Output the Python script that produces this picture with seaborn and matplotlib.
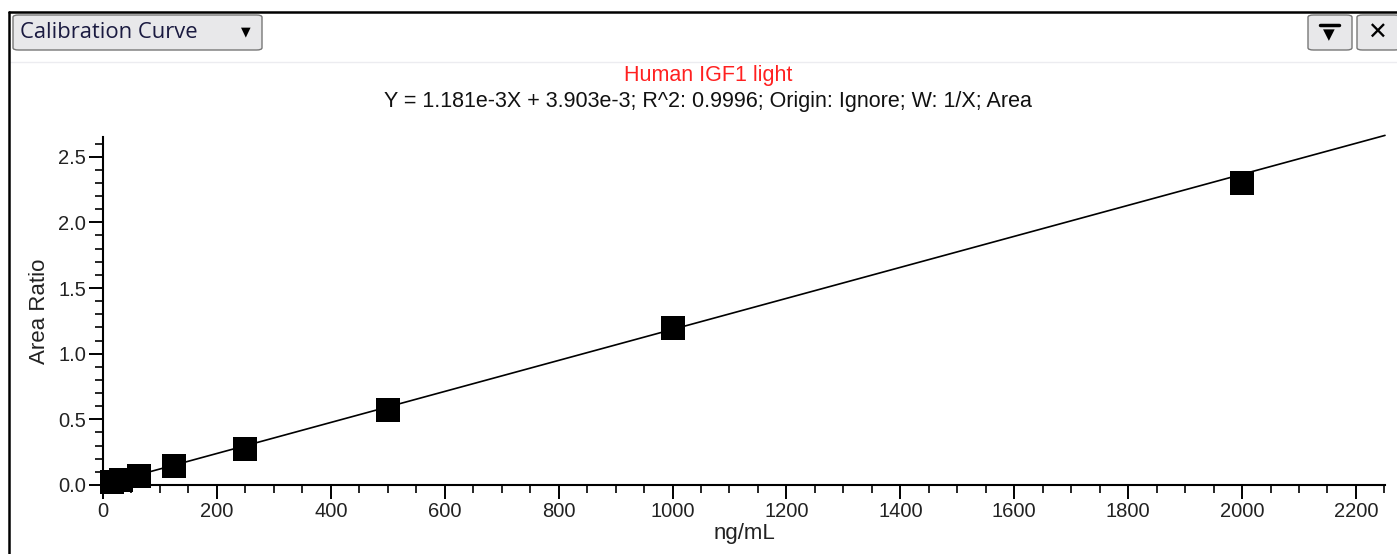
import numpy as np
import pandas as pd
import matplotlib
matplotlib.use("Agg")
import matplotlib.pyplot as plt
from matplotlib.patches import FancyBboxPatch
from matplotlib.ticker import MultipleLocator
import seaborn as sns

# calibration standards
conc = [15.6, 31.25, 62.5, 125, 250, 500, 1000, 2000]
area_ratio = [0.02, 0.04, 0.07, 0.145, 0.274, 0.572, 1.197, 2.30]

# fit reported in the chart header
slope = 1.181e-3
intercept = 3.903e-3
fit_x = [0, 2251]

title_main = "Human IGF1 light"
title_eq = "Y = 1.181e-3X + 3.903e-3; R^2: 0.9996; Origin: Ignore; W: 1/X; Area"

sns.set_style("ticks")
plt.rcParams["font.family"] = ["Liberation Sans", "DejaVu Sans"]

pts = pd.DataFrame({"conc": conc, "ratio": area_ratio})
fit = pd.DataFrame({"x": fit_x, "y": [slope * v + intercept for v in fit_x]})

fig = plt.figure(figsize=(13.97, 5.54), dpi=100)
ax = fig.add_axes([103 / 1397, 69 / 554, 1282 / 1397, 348 / 554])
ax.set_facecolor("white")

sns.lineplot(data=fit, x="x", y="y", color="black", lw=1.2, ax=ax, clip_on=False)
sns.scatterplot(data=pts, x="conc", y="ratio", marker="s", s=290, color="black",
                edgecolor="black", linewidth=0, ax=ax, clip_on=False, zorder=5)

ax.set_xlim(0, 2251)
ax.set_ylim(0, 2.65)
ax.xaxis.set_major_locator(MultipleLocator(200))
ax.xaxis.set_minor_locator(MultipleLocator(50))
ax.yaxis.set_major_locator(MultipleLocator(0.5))
ax.yaxis.set_minor_locator(MultipleLocator(0.1))
ax.yaxis.set_major_formatter(matplotlib.ticker.FormatStrFormatter("%.1f"))
ax.tick_params(which="major", length=10, width=1.4, labelsize=14.5, colors="black",
               labelcolor="#222222", pad=2)
ax.tick_params(which="minor", length=6, width=1.4)
sns.despine(ax=ax)
for s in ("left", "bottom"):
    ax.spines[s].set_linewidth(1.5)
    ax.spines[s].set_color("black")

ax.set_xlabel("ng/mL", fontsize=16, color="#222222", labelpad=2)
ax.set_ylabel("Area Ratio", fontsize=16, color="#222222", labelpad=6)

fig.text(708 / 1397, 1 - 76 / 554, title_main, color="#ff2020", fontsize=15.5,
         ha="center", va="center")
fig.text(708 / 1397, 1 - 101 / 554, title_eq, color="#111111", fontsize=15.5,
         ha="center", va="center")

# window chrome
fig.add_artist(plt.Line2D([9 / 1397, 1], [1 - 62 / 554] * 2, color="#ececf0", lw=1.0,
                          transform=fig.transFigure))
fig.add_artist(plt.Line2D([9 / 1397, 1], [1 - 12 / 554] * 2, color="black", lw=1.8,
                          transform=fig.transFigure))
fig.add_artist(plt.Line2D([9 / 1397] * 2, [0, 1 - 12 / 554], color="black", lw=1.8,
                          transform=fig.transFigure))


def button(x0, y0, x1, y1):
    fig.add_artist(FancyBboxPatch((x0 / 1397, 1 - y1 / 554), (x1 - x0) / 1397,
                                  (y1 - y0) / 554, boxstyle="round,pad=0,rounding_size=0.004",
                                  transform=fig.transFigure, facecolor="#e8e8ea",
                                  edgecolor="#777777", lw=1.0))


button(13, 15, 262, 50)
button(1308, 15, 1352, 50)
button(1357, 15, 1400, 50)
fig.text(20 / 1397, 1 - 32 / 554, "Calibration Curve", fontsize=15.8, color="#1a1a40",
         ha="left", va="center", family=["Open Sans", "DejaVu Sans"])
fig.text(246 / 1397, 1 - 32 / 554, "\u25bc", fontsize=9, color="black", ha="center", va="center",
         family="DejaVu Sans")
fig.text(1329 / 1397, 1 - 35 / 554, "\u25bc", fontsize=11, color="black", ha="center", va="center",
         family="DejaVu Sans")
fig.add_artist(plt.Line2D([1320 / 1397, 1339 / 1397], [1 - 25 / 554] * 2, color="black", lw=2.5,
                          transform=fig.transFigure))
fig.text(1377 / 1397, 1 - 33 / 554, "\u2715", fontsize=17, color="black", ha="center", va="center",
         family="DejaVu Sans", weight="bold")

fig.savefig("out.png", dpi=100, facecolor="white")
